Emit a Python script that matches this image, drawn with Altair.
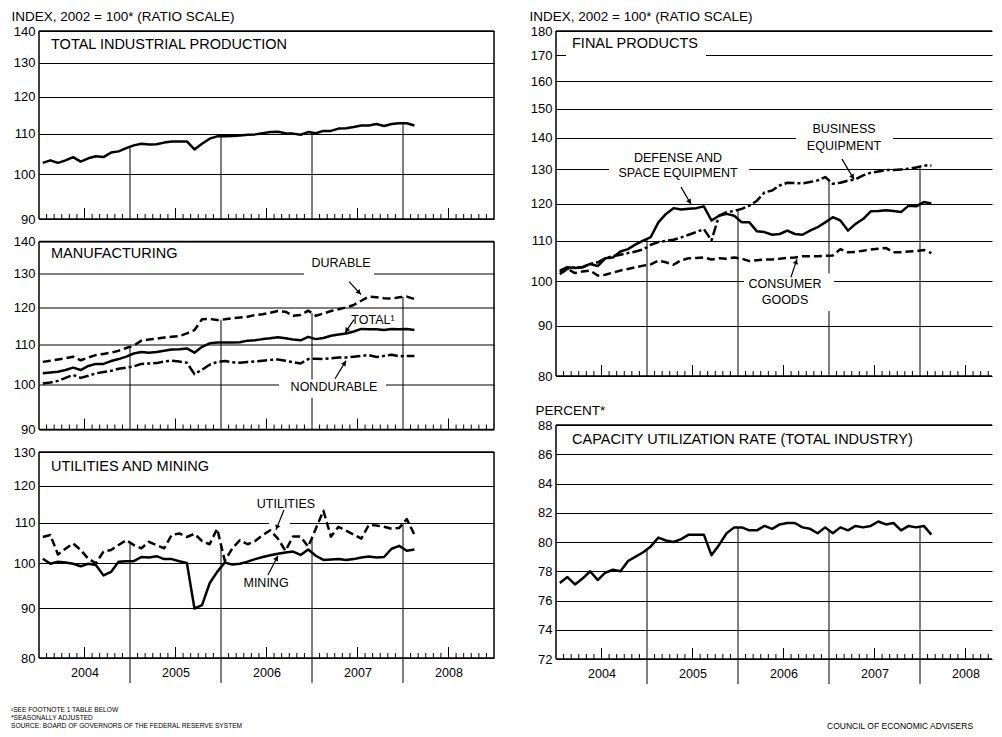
import math
import altair as alt
import pandas as pd

FONT = "Liberation Sans"

# ---------------- data: monthly, Jan 2004 .. Feb 2008 ----------------
N_MONTHS = 50
month_t = [2004 + (i + 0.5) / 12 for i in range(N_MONTHS)]
year_labels = [2004, 2005, 2006, 2007, 2008]

total_ip = [102.7, 103.3, 102.7, 103.3, 104.1, 103.0, 103.8, 104.3, 104.1, 105.2,
            105.5, 106.3, 107.0, 107.4, 107.2, 107.3, 107.7, 108.0, 108.0, 108.0,
            106.0, 107.4, 108.7, 109.3, 109.3, 109.4, 109.5, 109.7, 109.8, 110.1,
            110.4, 110.5, 110.1, 110.0, 109.7, 110.4, 110.1, 110.7, 110.7, 111.3,
            111.4, 111.7, 112.1, 112.1, 112.5, 112.0, 112.5, 112.7, 112.7, 112.1]

mfg_total = [102.7, 102.9, 103.1, 103.5, 104.1, 103.5, 104.5, 105.0, 105.0, 105.7,
             106.2, 106.8, 107.6, 108.0, 107.8, 108.0, 108.3, 108.6, 108.7, 108.9,
             107.8, 109.3, 110.2, 110.4, 110.4, 110.4, 110.5, 110.9, 111.0, 111.3,
             111.5, 111.8, 111.5, 111.2, 111.0, 111.9, 111.3, 111.6, 112.2, 112.5,
             112.8, 113.3, 114.0, 113.9, 113.9, 113.7, 114.0, 113.9, 114.0, 113.7]

durable = [105.5, 105.8, 106.1, 106.4, 106.8, 105.9, 106.6, 107.2, 107.5, 107.8,
           108.3, 109.0, 109.6, 110.9, 111.2, 111.4, 111.7, 111.9, 112.1, 112.8,
           113.7, 116.6, 116.7, 116.4, 116.6, 116.9, 117.1, 117.3, 117.8, 118.0,
           118.4, 118.9, 118.7, 117.6, 117.8, 119.0, 117.6, 118.2, 118.9, 119.4,
           119.9, 120.6, 121.8, 123.0, 122.8, 122.5, 122.4, 122.8, 123.0, 122.3]

nondurable = [100.3, 100.5, 100.9, 101.6, 102.3, 101.6, 102.1, 102.7, 103.0, 103.3,
              103.8, 104.1, 104.4, 105.0, 105.1, 105.2, 105.6, 105.8, 105.6, 105.3,
              102.5, 103.6, 104.8, 105.5, 105.7, 105.4, 105.3, 105.5, 105.6, 105.8,
              106.0, 106.1, 105.8, 105.4, 105.1, 106.2, 106.3, 106.2, 106.4, 106.6,
              106.6, 106.8, 107.0, 107.2, 106.7, 107.0, 107.3, 106.9, 107.0, 107.0]

utilities = [106.4, 106.9, 102.1, 103.5, 104.8, 103.2, 101.1, 100.0, 102.8, 103.2,
             104.4, 105.6, 104.4, 103.6, 105.2, 104.4, 103.6, 106.9, 107.3, 106.4,
             107.2, 105.4, 104.6, 108.5, 100.6, 103.6, 105.6, 104.6, 105.4, 106.9,
             108.1, 106.0, 103.0, 106.5, 106.5, 104.0, 108.5, 113.2, 106.5, 109.0,
             108.0, 107.0, 106.0, 109.5, 109.3, 109.0, 108.5, 108.7, 111.0, 107.0]

mining = [101.1, 99.9, 100.4, 100.2, 99.9, 99.3, 99.9, 99.6, 97.2, 98.0,
          100.4, 100.5, 100.5, 101.5, 101.4, 101.7, 101.0, 101.0, 100.5, 100.1,
          89.9, 90.6, 95.4, 98.0, 100.2, 99.7, 99.9, 100.4, 101.0, 101.5,
          101.9, 102.3, 102.6, 102.8, 102.0, 103.3, 101.8, 100.8, 100.9, 101.0,
          100.8, 101.0, 101.4, 101.6, 101.4, 101.5, 103.5, 104.2, 103.0, 103.3]

defense = [102.5, 103.3, 103.1, 103.3, 104.1, 103.6, 105.5, 105.7, 107.2, 107.8,
           109.0, 110.0, 110.9, 114.8, 117.1, 118.7, 118.3, 118.5, 118.7, 119.2,
           115.3, 116.6, 117.1, 116.6, 114.8, 114.8, 112.4, 112.2, 111.5, 111.7,
           112.6, 111.7, 111.5, 112.6, 113.5, 114.8, 116.2, 115.3, 112.6, 114.4,
           115.7, 117.8, 117.9, 118.1, 117.9, 117.6, 119.4, 119.2, 120.4, 120.0]

business = [102.1, 102.9, 103.3, 103.3, 104.1, 104.5, 105.5, 106.0, 106.4, 106.8,
            107.2, 107.7, 108.9, 109.6, 109.9, 110.2, 110.8, 111.5, 112.2, 113.0,
            110.0, 116.6, 117.6, 117.9, 118.5, 119.4, 120.8, 123.2, 123.7, 125.2,
            126.0, 125.9, 125.8, 126.2, 126.7, 127.7, 125.7, 126.0, 126.6, 127.0,
            128.2, 129.0, 129.4, 129.8, 129.8, 130.0, 130.2, 130.6, 131.2, 131.2]

consumer = [101.6, 102.9, 101.9, 102.3, 102.5, 101.3, 101.5, 102.0, 102.5, 102.9,
            103.3, 103.7, 104.0, 104.9, 104.5, 103.9, 105.0, 105.5, 105.6, 105.7,
            105.2, 105.5, 105.4, 105.7, 105.4, 104.8, 105.0, 105.2, 105.2, 105.4,
            105.6, 105.7, 106.0, 106.0, 106.0, 106.1, 106.2, 107.8, 107.0, 107.1,
            107.4, 107.7, 107.9, 108.1, 107.0, 107.0, 107.2, 107.3, 107.6, 106.8]

capacity = [77.2, 77.6, 77.1, 77.5, 78.0, 77.4, 77.9, 78.1, 78.0, 78.7,
            79.0, 79.3, 79.7, 80.3, 80.1, 80.0, 80.2, 80.5, 80.5, 80.5,
            79.1, 79.8, 80.6, 81.0, 81.0, 80.8, 80.8, 81.1, 80.9, 81.2,
            81.3, 81.3, 81.0, 80.9, 80.6, 81.0, 80.6, 81.0, 80.8, 81.1,
            81.0, 81.1, 81.4, 81.2, 81.3, 80.8, 81.1, 81.0, 81.1, 80.5]

SOLID = None
DASH = [8, 4]
DASHDOT = [10, 3, 3, 3]

# ---------------- layout ----------------
PX_PER_YEAR = 91.0
LW = 455
RW = 436
L_XMAX = 2004 + LW / PX_PER_YEAR
R_XMAX = 2004 + RW / PX_PER_YEAR
TITLE_SIZE = 14.5
LABEL_SIZE = 12.5

DUMMY = pd.DataFrame({"d": [0]})


def make_panel(W, H, xmax, ytype, ydomain, yvals, series, ytitle=None, ytitle_x=-28,
               bottom=False, right_border=True, boxes=(), texts=(), arrows=(), footer=()):
    xs = alt.Scale(domain=[2004, xmax], nice=False, zero=False)
    if bottom:
        xaxis = alt.Axis(values=[y + 0.5 for y in year_labels if y + 0.5 < xmax],
                         labelExpr="'' + floor(datum.value)",
                         ticks=False, domain=False, grid=False, labelFont=FONT,
                         labelFontSize=12.5, labelColor="black", labelPadding=8,
                         title=None)
    else:
        xaxis = None
    if ytype == "log":
        ys = alt.Scale(type="log", domain=ydomain, nice=False)
    else:
        ys = alt.Scale(domain=ydomain, nice=False, zero=False)
    ykw = dict(values=yvals, grid=True, gridColor="black", gridWidth=1, gridOpacity=1,
               ticks=False, domain=False, labelFont=FONT, labelFontSize=13,
               labelColor="black", labelPadding=4, format="d")
    if ytitle:
        ykw.update(title=ytitle, titleAngle=0, titleAlign="left", titleBaseline="middle",
                   titleX=ytitle_x, titleY=-15, titleFont=FONT, titleFontSize=13.5,
                   titleFontWeight="normal", titleColor="black")
    else:
        ykw.update(title=None)
    yaxis = alt.Axis(**ykw)

    def X(f):
        return alt.X(f, type="quantitative", scale=xs, axis=xaxis)

    def Y(f):
        return alt.Y(f, type="quantitative", scale=ys, axis=yaxis)

    def px(t, v):
        x = (t - 2004) / (xmax - 2004) * W
        if ytype == "log":
            y = H * (math.log(ydomain[1]) - math.log(v)) / (math.log(ydomain[1]) - math.log(ydomain[0]))
        else:
            y = H * (ydomain[1] - v) / (ydomain[1] - ydomain[0])
        return x, y

    layers = []
    # year separators rising from the bottom up to the data
    rows = []
    for k, yr in enumerate([2005, 2006, 2007, 2008]):
        i = 11 + 12 * k
        top = max((s[i] + s[i + 1]) / 2 for s, _ in series)
        rows.append(dict(t=yr, base=ydomain[0], top=top))
    layers.append(alt.Chart(pd.DataFrame(rows)).mark_rule(color="black", strokeWidth=1)
                  .encode(x=X("t"), y=Y("base"), y2="top"))
    if bottom:
        layers.append(alt.Chart(pd.DataFrame({"t": [2005, 2006, 2007, 2008]}))
                      .mark_rule(color="black", strokeWidth=1)
                      .encode(x=X("t"), y=alt.value(H), y2=alt.value(H + 25)))
    # monthly ticks
    small = pd.DataFrame({"t": [y + m / 12 for y in range(2004, 2009) for m in range(1, 12)
                                if m != 6 and y + m / 12 < xmax]})
    tall = pd.DataFrame({"t": [y + 0.5 for y in range(2004, 2009) if y + 0.5 < xmax]})
    layers.append(alt.Chart(small).mark_rule(color="black", strokeWidth=1)
                  .encode(x=X("t"), y=alt.value(H), y2=alt.value(H - 5)))
    layers.append(alt.Chart(tall).mark_rule(color="black", strokeWidth=1)
                  .encode(x=X("t"), y=alt.value(H), y2=alt.value(H - 11)))
    # white label backgrounds interrupting grid lines
    if boxes:
        bdf = pd.DataFrame(list(boxes), columns=["t1", "t2", "v1", "v2"])
        layers.append(alt.Chart(bdf).mark_rect(color="white", opacity=1)
                      .encode(x=X("t1"), x2="t2", y=Y("v1"), y2="v2"))
    # series
    for s, dash in series:
        df = pd.DataFrame({"t": month_t, "v": s})
        kw = dict(color="black", strokeWidth=2.5, strokeJoin="round")
        if dash:
            kw["strokeDash"] = dash
        layers.append(alt.Chart(df).mark_line(**kw).encode(x=X("t"), y=Y("v")))
    # labels
    for label, t, v, align, size in texts:
        tdf = pd.DataFrame({"t": [t], "v": [v], "label": [label]})
        layers.append(alt.Chart(tdf).mark_text(font=FONT, fontSize=size, color="black",
                                               align=align, baseline="middle", dy=-1.5)
                      .encode(x=X("t"), y=Y("v"), text="label:N"))
    # arrows
    for (t1, v1), (t2, v2) in arrows:
        x1, y1 = px(t1, v1)
        x2, y2 = px(t2, v2)
        ang = math.degrees(math.atan2(x2 - x1, -(y2 - y1))) % 360
        L = math.hypot(x2 - x1, y2 - y1)
        f = max(0.0, 1 - 3.5 / L)
        th = t1 + (t2 - t1) * f
        if ytype == "log":
            vh = math.exp(math.log(v1) + (math.log(v2) - math.log(v1)) * f)
        else:
            vh = v1 + (v2 - v1) * f
        sdf = pd.DataFrame({"t1": [t1], "v1": [v1], "t2": [t2], "v2": [v2]})
        layers.append(alt.Chart(sdf).mark_rule(color="black", strokeWidth=1.2)
                      .encode(x=X("t1"), x2="t2", y=Y("v1"), y2="v2"))
        hdf = pd.DataFrame({"t": [th], "v": [vh], "ang": [ang]})
        layers.append(alt.Chart(hdf).mark_point(shape="triangle", filled=True, size=30,
                                                color="black", opacity=1)
                      .encode(x=X("t"), y=Y("v"), angle=alt.Angle("ang:Q", scale=None)))
    # frame
    bw = 1.5
    layers.append(alt.Chart(DUMMY).mark_rule(color="black", strokeWidth=bw)
                  .encode(x=alt.value(0), x2=alt.value(W), y=alt.value(0)))
    layers.append(alt.Chart(DUMMY).mark_rule(color="black", strokeWidth=bw)
                  .encode(x=alt.value(0), x2=alt.value(W), y=alt.value(H)))
    layers.append(alt.Chart(DUMMY).mark_rule(color="black", strokeWidth=bw)
                  .encode(x=alt.value(0), y=alt.value(0), y2=alt.value(H)))
    if right_border:
        layers.append(alt.Chart(DUMMY).mark_rule(color="black", strokeWidth=bw)
                      .encode(x=alt.value(W), y=alt.value(0), y2=alt.value(H)))
    # footnotes
    for label, xpx, ypx, size, limit in footer:
        mt = dict(font=FONT, fontSize=size, color="black", align="left", baseline="middle")
        if limit:
            mt.update(limit=limit, ellipsis="")
        layers.append(alt.Chart(DUMMY).mark_text(**mt)
                      .encode(x=alt.value(xpx), y=alt.value(ypx), text=alt.value(label)))
    return alt.layer(*layers).properties(width=W, height=H)


INDEX_TITLE = "INDEX, 2002 = 100* (RATIO SCALE)"

p1 = make_panel(
    LW, 188, L_XMAX, "log", [90, 140], [90, 100, 110, 120, 130, 140],
    [(total_ip, SOLID)], ytitle=INDEX_TITLE, ytitle_x=-28,
    texts=[("TOTAL INDUSTRIAL PRODUCTION", 2004.132, 135.1, "left", TITLE_SIZE)],
)

p2 = make_panel(
    LW, 188, L_XMAX, "log", [90, 140], [90, 100, 110, 120, 130, 140],
    [(durable, DASH), (mfg_total, SOLID), (nondurable, DASHDOT)],
    boxes=[(2006.912, 2007.681, 128.0, 134.2), (2006.637, 2007.813, 97.0, 101.2)],
    texts=[("MANUFACTURING", 2004.132, 135.5, "left", TITLE_SIZE),
           ("DURABLE", 2007.319, 132.6, "center", LABEL_SIZE),
           ("TOTAL\u00b9", 2007.670, 116.0, "center", LABEL_SIZE),
           ("NONDURABLE", 2007.242, 99.1, "center", LABEL_SIZE)],
    arrows=[((2007.407, 127.4), (2007.538, 123.6)),
            ((2007.462, 116.5), (2007.363, 113.0)),
            ((2007.253, 101.4), (2007.374, 105.8))],
)

p3 = make_panel(
    LW, 206, L_XMAX, "log", [80, 130], [80, 90, 100, 110, 120, 130],
    [(utilities, DASH), (mining, SOLID)], bottom=True,
    boxes=[(2006.527, 2006.758, 108.7, 111.3)],
    texts=[("UTILITIES AND MINING", 2004.132, 124.9, "left", TITLE_SIZE),
           ("UTILITIES", 2006.714, 114.5, "center", LABEL_SIZE),
           ("MINING", 2006.495, 95.1, "center", LABEL_SIZE)],
    arrows=[((2006.692, 113.4), (2006.604, 108.2)),
            ((2006.516, 97.3), (2006.626, 101.8))],
    footer=[("\u00b9SEE FOOTNOTE 1 TABLE BELOW", -28, 258, 6.6, None),
            ("*SEASONALLY ADJUSTED", -28, 266, 6.6, None),
            ("SOURCE: BOARD OF GOVERNORS OF THE FEDERAL RESERVE SYSTEM", -28, 273.5, 6.6, None)],
)

r1 = make_panel(
    RW, 345, R_XMAX, "log", [80, 180], [80, 90, 100, 110, 120, 130, 140, 150, 160, 170, 180],
    [(consumer, DASH), (business, DASHDOT), (defense, SOLID)],
    ytitle=INDEX_TITLE, ytitle_x=-27, right_border=False,
    boxes=[(2004.110, 2005.648, 167.3, 178.3), (2004.582, 2006.121, 126.3, 135.4),
           (2006.637, 2007.703, 134.3, 144.6), (2006.066, 2007.055, 93.2, 101.8)],
    texts=[("FINAL PRODUCTS", 2004.176, 173.8, "left", TITLE_SIZE),
           ("DEFENSE AND", 2005.341, 133.2, "center", LABEL_SIZE),
           ("SPACE EQUIPMENT", 2005.341, 128.6, "center", LABEL_SIZE),
           ("BUSINESS", 2007.165, 142.3, "center", LABEL_SIZE),
           ("EQUIPMENT", 2007.165, 137.0, "center", LABEL_SIZE),
           ("CONSUMER", 2006.516, 99.0, "center", LABEL_SIZE),
           ("GOODS", 2006.516, 95.4, "center", LABEL_SIZE)],
    arrows=[((2005.374, 124.7), (2005.484, 119.8)),
            ((2007.143, 133.2), (2007.275, 127.0)),
            ((2006.582, 100.9), (2006.648, 105.3))],
)

r2 = make_panel(
    RW, 234, R_XMAX, "linear", [72, 88], [72, 74, 76, 78, 80, 82, 84, 86, 88],
    [(capacity, SOLID)], ytitle="PERCENT*", ytitle_x=-21, bottom=True, right_border=False,
    texts=[("CAPACITY UTILIZATION RATE (TOTAL INDUSTRY)", 2004.176, 86.9, "left", TITLE_SIZE)],
    footer=[("COUNCIL OF ECONOMIC ADVISERS", 271, 300.5, 8.5, 164)],
)

left = alt.vconcat(p1, p2, p3, spacing=22.5, bounds="flush")
right = alt.vconcat(r1, r2, spacing=49, bounds="flush")
chart = (
    alt.hconcat(left, right, spacing=32)
    .properties(padding={"left": 2, "top": 0, "right": 0, "bottom": 0})
    .configure_view(stroke="transparent")
)

chart.save("out.html", embed_options={"renderer": "svg", "actions": False})
